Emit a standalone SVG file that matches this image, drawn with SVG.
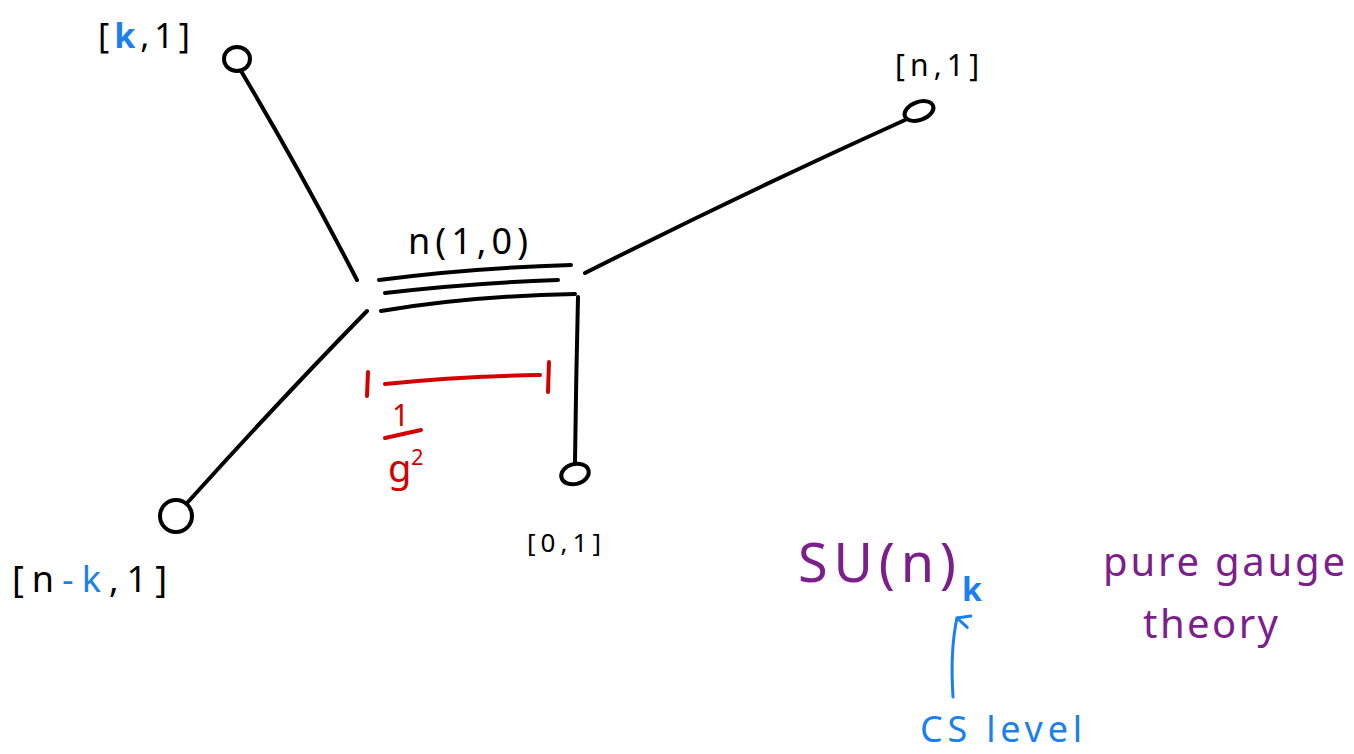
<svg xmlns="http://www.w3.org/2000/svg" width="1354" height="754" viewBox="0 0 1354 754">
  <style>
    .ink { fill: none; stroke: #000; stroke-width: 4; stroke-linecap: round; stroke-linejoin: round; }
    .node { fill: #fff; stroke: #000; stroke-width: 4; }
    .lbl { font-family: "Noto Sans", "DejaVu Sans", sans-serif; fill: #000; }
    .blue { fill: #1a7ff0; }
    .purple { fill: #7c1f8c; }
    .red { fill: #d40000; }
    .redline { fill: none; stroke: #d40000; stroke-width: 4; stroke-linecap: round; }
    .blueline { fill: none; stroke: #1a7ff0; stroke-width: 3; stroke-linecap: round; stroke-linejoin: round; }
  </style>
  <defs>
    <marker id="vhead" viewBox="0 0 20 20" refX="10" refY="4" markerWidth="20" markerHeight="20" markerUnits="userSpaceOnUse" orient="auto-start-reverse">
      <path d="M3 16 L10 4 L15 17" fill="none" stroke="#1a7ff0" stroke-width="3" stroke-linecap="round" stroke-linejoin="round"/>
    </marker>
  </defs>
  <rect width="1354" height="754" fill="#fff"/>

  <!-- brane web: legs and the stack of n (1,0) branes -->
  <g id="connectors">
    <path class="ink" d="M241 71 Q300 170 357 280"/>
    <path class="ink" d="M585 273 Q750 190 905 120"/>
    <path class="ink" d="M367 311 Q280 400 188 502"/>
    <path class="ink" d="M578 297 Q576 380 575 462"/>
    <path class="ink" d="M379 280 Q470 268 571 265"/>
    <path class="ink" d="M385 293 Q470 283 558 280"/>
    <path class="ink" d="M381 311 Q470 296 575 294"/>
  </g>

  <g id="node-k1">
    <ellipse class="node" cx="237" cy="59" rx="13" ry="12"/>
    <text class="lbl" x="98" y="48" font-size="34" textLength="92" lengthAdjust="spacing">[<tspan class="blue" font-weight="bold">k</tspan>,1]</text>
  </g>

  <g id="node-n1">
    <ellipse class="node" cx="919" cy="111" rx="15" ry="9" transform="rotate(-20 919 111)"/>
    <text class="lbl" x="895" y="76" font-size="30" textLength="84" lengthAdjust="spacing">[n,1]</text>
  </g>

  <g id="node-nk1">
    <ellipse class="node" cx="176" cy="516" rx="16" ry="16"/>
    <text class="lbl" x="12" y="592" font-size="36" textLength="155" lengthAdjust="spacing">[n<tspan class="blue">-k</tspan>,1]</text>
  </g>

  <g id="node-01">
    <ellipse class="node" cx="575" cy="474" rx="14" ry="10" transform="rotate(-15 575 474)"/>
    <text class="lbl" x="527" y="552" font-size="26" textLength="74" lengthAdjust="spacing">[0,1]</text>
  </g>

  <g id="stack-label">
    <text class="lbl" x="408" y="254" font-size="36" textLength="120" lengthAdjust="spacing">n(1,0)</text>
  </g>

  <!-- length of the stack: 1/g^2 -->
  <g id="coupling">
    <path class="redline" d="M368 372 L367 396"/>
    <path class="redline" d="M385 384 Q460 376 540 375"/>
    <path class="redline" d="M549 362 L548 392"/>
    <text class="lbl red" x="392" y="426" font-size="30">1</text>
    <path class="redline" d="M385 438 L421 430"/>
    <text class="lbl red" x="388" y="482" font-size="38">g</text>
    <text class="lbl red" x="411" y="465" font-size="22">2</text>
  </g>

  <g id="gauge-theory">
    <text class="lbl purple" x="798" y="582" font-size="54" textLength="158" lengthAdjust="spacing">SU(n)</text>
    <text class="lbl blue" x="962" y="601" font-size="32" font-weight="bold">k</text>
    <path class="blueline" d="M953 697 Q950 650 957 618" marker-end="url(#vhead)"/>
    <text class="lbl blue" x="920" y="742" font-size="36" textLength="162" lengthAdjust="spacing">CS level</text>
    <text class="lbl purple" x="1103" y="576" font-size="40" textLength="242" lengthAdjust="spacing">pure gauge</text>
    <text class="lbl purple" x="1143" y="638" font-size="40" textLength="135" lengthAdjust="spacing">theory</text>
  </g>
</svg>
